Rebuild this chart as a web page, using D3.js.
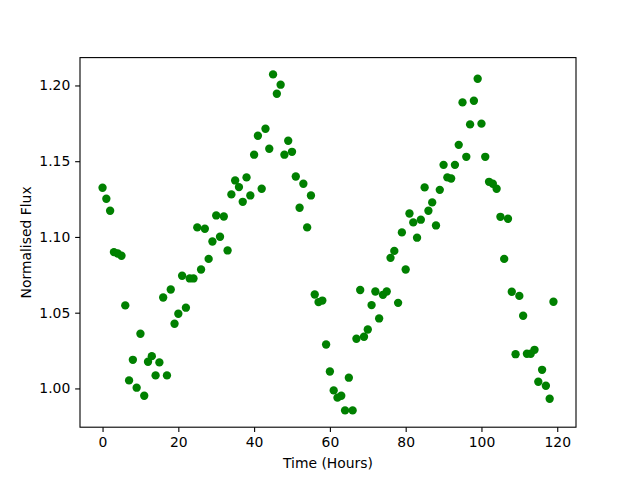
<!DOCTYPE html>
<html>
<head>
<meta charset="utf-8">
<script src="https://cdn.jsdelivr.net/npm/d3@7"></script>
<style>
  body { margin: 0; background: #fff; }
  svg text { font-family: "DejaVu Sans", sans-serif; }
</style>
</head>
<body>
<div id="chart"></div>
<script>
// hours since start, one reading per hour
var hours = d3.range(0, 120);

// normalised flux
var flux = [
  1.1325, 1.1252, 1.1173, 1.0900, 1.0891, 1.0876, 1.0548, 1.0053, 1.0189, 1.0005,
  1.0361, 0.9952, 1.0176, 1.0213, 1.0086, 1.0172, 1.0600, 1.0086, 1.0653, 1.0427,
  1.0493, 1.0744, 1.0533, 1.0726, 1.0726, 1.1063, 1.0785, 1.1054, 1.0855, 1.0970,
  1.1142, 1.1001, 1.1135, 1.0911, 1.1281, 1.1373, 1.1329, 1.1232, 1.1393, 1.1274,
  1.1543, 1.1668, 1.1318, 1.1714, 1.1582, 1.2073, 1.1945, 1.2005, 1.1543, 1.1635,
  1.1562, 1.1399, 1.1193, 1.1351, 1.1063, 1.1274, 1.0620, 1.0570, 1.0580, 1.0290,
  1.0112, 0.9987, 0.9939, 0.9952, 0.9855, 1.0071, 0.9855, 1.0328, 1.0650, 1.0341,
  1.0389, 1.0550, 1.0640, 1.0462, 1.0618, 1.0640, 1.0862, 1.0908, 1.0565, 1.1030,
  1.0785, 1.1155, 1.1096, 1.0995, 1.1114, 1.1327, 1.1173, 1.1228, 1.1076, 1.1311,
  1.1476, 1.1393, 1.1386, 1.1476, 1.1608, 1.1888, 1.1529, 1.1743, 1.1899, 1.2044,
  1.1748, 1.1529, 1.1364, 1.1351, 1.1318, 1.1133, 1.0855, 1.1120, 1.0638, 1.0226,
  1.0611, 1.0480, 1.0229, 1.0229, 1.0255, 1.0044, 1.0123, 1.0018, 0.9932, 1.0572
];

var xTicks = [0, 20, 40, 60, 80, 100, 120];
var yTicks = [1.00, 1.05, 1.10, 1.15, 1.20];

var W = 640, H = 480;
var margin = { left: 80, right: 64, top: 57.6, bottom: 52.8 };
var pw = W - margin.left - margin.right;
var ph = H - margin.top - margin.bottom;

// matplotlib style 5% padding
function padded(ext) {
  var d = (ext[1] - ext[0]) * 0.05;
  return [ext[0] - d, ext[1] + d];
}

var x = d3.scaleLinear().domain(padded(d3.extent(hours))).range([0, pw]);
var y = d3.scaleLinear().domain(padded(d3.extent(flux))).range([ph, 0]);

var svg = d3.select("#chart").append("svg")
  .attr("width", W).attr("height", H);

var g = svg.append("g")
  .attr("transform", "translate(" + margin.left + "," + margin.top + ")");

var tickLen = 4.86;

var xAxis = g.append("g")
  .attr("transform", "translate(0," + ph + ")")
  .call(d3.axisBottom(x).tickValues(xTicks).tickSizeInner(tickLen)
    .tickSizeOuter(0).tickPadding(4.86).tickFormat(d3.format("d")));

var yAxis = g.append("g")
  .call(d3.axisLeft(y).tickValues(yTicks).tickSizeInner(tickLen)
    .tickSizeOuter(0).tickPadding(4.86).tickFormat(d3.format(".2f")));

[xAxis, yAxis].forEach(function(a) {
  a.select(".domain").remove();
  a.selectAll(".tick line").attr("stroke", "#000").attr("stroke-width", 1.1);
  a.selectAll(".tick text").attr("fill", "#000")
    .style("font-size", "13.9px").style("font-family", "DejaVu Sans, sans-serif");
});

// points
g.append("g").selectAll("circle")
  .data(hours)
  .enter()
  .append("circle")
  .attr("cx", function(d) { return x(d); })
  .attr("cy", function(d, i) { return y(flux[i]); })
  .attr("r", 4.17)
  .attr("fill", "#008000");

// frame
g.append("rect")
  .attr("width", pw).attr("height", ph)
  .attr("fill", "none").attr("stroke", "#000").attr("stroke-width", 1.1);

svg.append("text")
  .attr("x", margin.left + pw / 2).attr("y", 468)
  .attr("text-anchor", "middle")
  .style("font-size", "13.9px")
  .text("Time (Hours)");

svg.append("text")
  .attr("transform", "translate(31," + (margin.top + ph / 2) + ") rotate(-90)")
  .attr("text-anchor", "middle")
  .style("font-size", "13.9px")
  .text("Normalised Flux");
</script>
</body>
</html>
